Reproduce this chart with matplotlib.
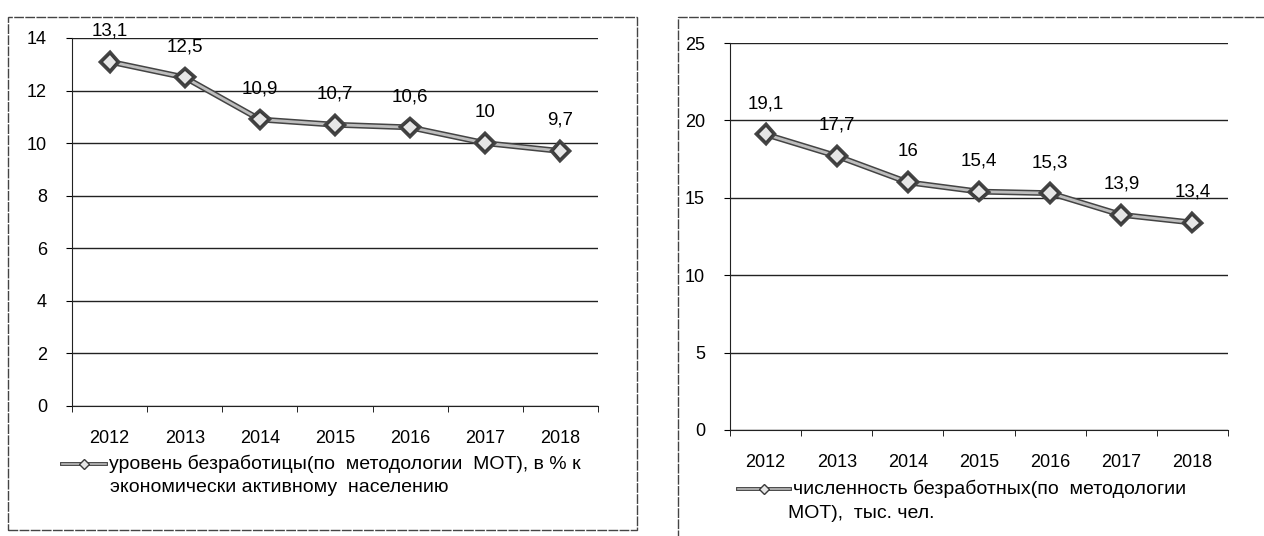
import matplotlib.pyplot as plt
import matplotlib.patheffects as pe
from matplotlib.lines import Line2D
from matplotlib.patches import Rectangle

plt.rcParams['font.family'] = ['Liberation Sans', 'DejaVu Sans']

years = ['2012', '2013', '2014', '2015', '2016', '2017', '2018']
rate = [13.1, 12.5, 10.9, 10.7, 10.6, 10.0, 9.7]
rate_labels = ['13,1', '12,5', '10,9', '10,7', '10,6', '10', '9,7']
count = [19.1, 17.7, 16.0, 15.4, 15.3, 13.9, 13.4]
count_labels = ['19,1', '17,7', '16', '15,4', '15,3', '13,9', '13,4']

legend_left = ['уровень безработицы(по  методологии  МОТ), в % к',
               'экономически активному  населению']
legend_right = ['численность безработных(по  методологии',
                'МОТ),  тыс. чел.']

W, H = 1264, 536
fig = plt.figure(figsize=(W / 100, H / 100), dpi=100)

line_kw = dict(color='#bdbdbd', lw=2.0, marker='D', markersize=8,
               markerfacecolor='#e6e6e6', markeredgecolor='#3a3a3a',
               markeredgewidth=1.1,
               path_effects=[pe.Stroke(linewidth=4.2, foreground='#444444'), pe.Normal()])


def fx(px):
    return px / W


def fy(py):
    return 1 - py / H


def draw(rect, values, labels, ymax, ystep):
    ax = fig.add_axes(rect)
    x = list(range(len(years)))
    ax.plot(x, values, zorder=3, **line_kw)
    for xi, v, lab in zip(x, values, labels):
        ax.annotate(lab, (xi, v), xytext=(0, 22), textcoords='offset points',
                    ha='center', va='center', fontsize=13.5, zorder=4)
    ax.set_xlim(-0.5, len(years) - 0.5)
    ax.set_ylim(0, ymax)
    ax.set_yticks(range(0, ymax + 1, ystep))
    ax.set_xticks(x)
    ax.set_xticklabels(years)
    ax.set_xticks([i - 0.5 for i in range(len(years) + 1)], minor=True)
    ax.tick_params(axis='x', which='major', length=0, labelsize=13, pad=17)
    ax.tick_params(axis='x', which='minor', length=4, direction='out')
    ax.tick_params(axis='y', length=4, labelsize=13, pad=14)
    ax.grid(axis='y', color='#222222', lw=1.0)
    ax.set_axisbelow(True)
    for s in ['top', 'right']:
        ax.spines[s].set_visible(False)
    ax.spines['left'].set_color('#222222')
    ax.spines['bottom'].set_color('#222222')
    ax.set_facecolor('none')
    return ax


draw([fx(72), fy(406), fx(598 - 72), (406 - 38) / H], rate, rate_labels, 14, 2)
draw([fx(730), fy(430), fx(1228 - 730), (430 - 43) / H], count, count_labels, 25, 5)

# panel frames
fig.patches.append(Rectangle((fx(8), fy(530)), fx(637 - 8), (530 - 17) / H,
                             transform=fig.transFigure, fill=False,
                             ec='#444444', lw=1.0, ls=(0, (7, 1))))
fig.patches.append(Rectangle((fx(678), fy(560)), fx(1300 - 678), (560 - 17) / H,
                             transform=fig.transFigure, fill=False,
                             ec='#444444', lw=1.0, ls=(0, (7, 1)), clip_on=False))

# legends
for (x0, x1, y0), lines, tx2 in [((62, 106, 464), legend_left, 110),
                                 ((738, 790, 489), legend_right, 788)]:
    fig.add_artist(Line2D([fx(x0), fx(x1)], [fy(y0), fy(y0)], color='#bdbdbd', lw=1.2,
                          path_effects=[pe.Stroke(linewidth=2.8, foreground='#444444'), pe.Normal()]))
    fig.add_artist(Line2D([fx((x0 + x1) / 2)], [fy(y0)], marker='D', markersize=5,
                          markerfacecolor='#e6e6e6', markeredgecolor='#3a3a3a', lw=0))
    fig.text(fx(x1 + 3), fy(y0), lines[0], fontsize=14, va='center', ha='left')
    fig.text(fx(tx2), fy(y0 + 24), lines[1], fontsize=14, va='center', ha='left')

fig.savefig('out.png', dpi=100, facecolor='white')
